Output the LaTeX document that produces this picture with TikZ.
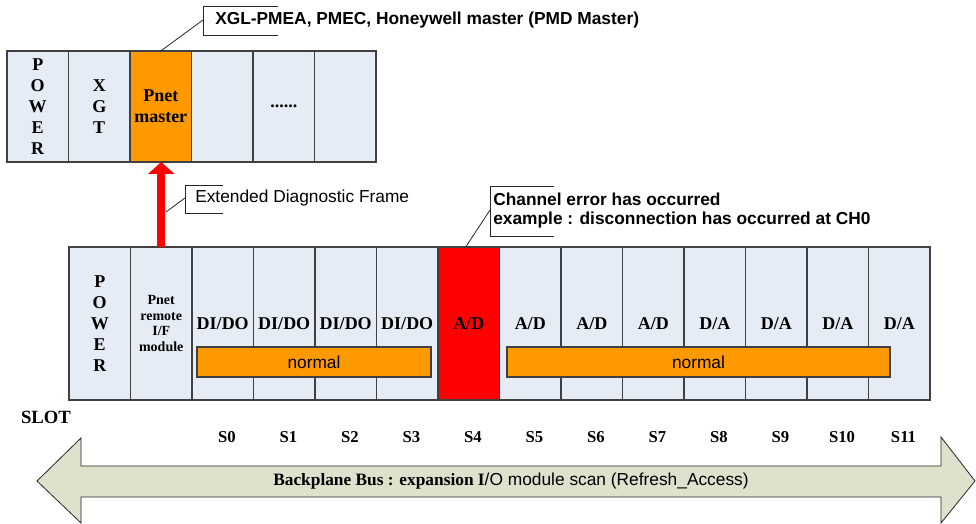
\documentclass[tikz,border=0pt]{standalone}
\usepackage{fontspec}
\setmainfont{Liberation Serif}
\setsansfont{Liberation Sans}
\usepackage{tikz}
\usetikzlibrary{arrows.meta,positioning,calc}
\definecolor{slotbg}{RGB}{230,236,246}
\definecolor{modorange}{RGB}{255,153,0}
\definecolor{busfill}{RGB}{221,226,205}
\definecolor{rim}{RGB}{64,64,64}

\begin{document}
\begin{tikzpicture}[x=0.75pt,y=-0.75pt,
  slot/.style={draw=rim,line width=0.8pt,minimum width=46.125pt,inner sep=0pt,outer sep=0pt,
    align=center,font=\fontsize{13.5}{15.75}\selectfont\bfseries},
  tslot/.style={slot,minimum height=83.25pt},
  bslot/.style={slot,minimum height=114.75pt},
  bar/.style={draw=rim,line width=0.8pt,fill=modorange,minimum height=22.5pt,inner sep=0pt,
    font=\sffamily\fontsize{13}{15}\selectfont},
  note/.style={anchor=west,inner sep=0pt,align=left,font=\sffamily\fontsize{13}{14.25}\selectfont},
  lead/.style={draw=black!85,line width=0.6pt},
  slab/.style={font=\bfseries\fontsize{12.5}{14}\selectfont,inner sep=0pt}]
\useasboundingbox (0,0) rectangle (976,524);

\foreach \lab/\col [count=\i from 0] in {{P\\O\\W\\E\\R}/slotbg,{X\\G\\T}/slotbg,{Pnet\\master}/modorange,{}/slotbg,{......}/slotbg,{}/slotbg}
  \node[tslot,fill=\col] (t\i) at (37.75+61.5*\i,106.5) {\lab};

\foreach \lab/\col [count=\i from 0] in {{P\\O\\W\\E\\R}/slotbg,{}/slotbg,{DI/DO}/slotbg,{DI/DO}/slotbg,{DI/DO}/slotbg,{DI/DO}/slotbg,{A/D}/red,{A/D}/slotbg,{A/D}/slotbg,{A/D}/slotbg,{D/A}/slotbg,{D/A}/slotbg,{D/A}/slotbg,{D/A}/slotbg}
  \node[bslot,fill=\col] (b\i) at (99.75+61.5*\i,323.5) {\lab};
\node[align=center,inner sep=0pt,font=\bfseries\fontsize{10.5}{11.6}\selectfont] (pif) at (b1) {Pnet\\remote\\I/F\\module};

\node[bar,minimum width=175.5pt] (n1) at (314,362) {normal};
\node[bar,minimum width=287.25pt] (n2) at (698.5,362) {normal};

\draw[red,line width=6pt,-{Triangle[width=19.5pt,length=9pt]}] (b1.north) -- (b1.north |- t2.south);

\node[note,font=\sffamily\bfseries\fontsize{13}{14}\selectfont] (c1) at (215,20) {XGL-PMEA, PMEC, Honeywell master (PMD Master)};
\draw[lead] (278,6) -| (203,35) -- (278,35);
\coordinate (c1l) at (203,20);
\draw[lead] (c1l) -- (t2.north);

\node[note] (c2) at (195,198) {Extended Diagnostic Frame};
\draw[lead] (223,185) -| (185,213) -- (223,213);
\coordinate (c2l) at (185,198);
\coordinate (shaft) at (166,212);
\draw[lead] (c2l) -- (shaft);

\node[note,font=\sffamily\bfseries\fontsize{13}{14.25}\selectfont] (c3) at (493,210.5) {Channel error has occurred\\example : disconnection has occurred at CH0};
\draw[lead] (554,186) -| (490,236) -- (554,236);
\coordinate (c3l) at (490,210);
\draw[lead] (c3l) -- ($(b6.north)+(-3,0)$);

\node[slab,font=\bfseries\fontsize{14}{16}\selectfont] (slot) at (46,417) {SLOT};
\foreach \i in {0,...,11}
  \node[slab] (s\i) at (227+61.5*\i,437) {S\i};

\draw[draw=black!85,fill=busfill,line width=0.6pt] (37,481) -- (81,438) -- (81,466) -- (941,466) -- (941,437)
  -- (975,481) -- (941,523) -- (941,497) -- (81,497) -- (81,523) -- cycle;
\node[inner sep=0pt,font=\bfseries\fontsize{13}{15}\selectfont] (bus) at (511,481)
  {Backplane Bus : expansion I\sffamily\mdseries/O module scan (Refresh\_Access)};
\end{tikzpicture}
\end{document}
